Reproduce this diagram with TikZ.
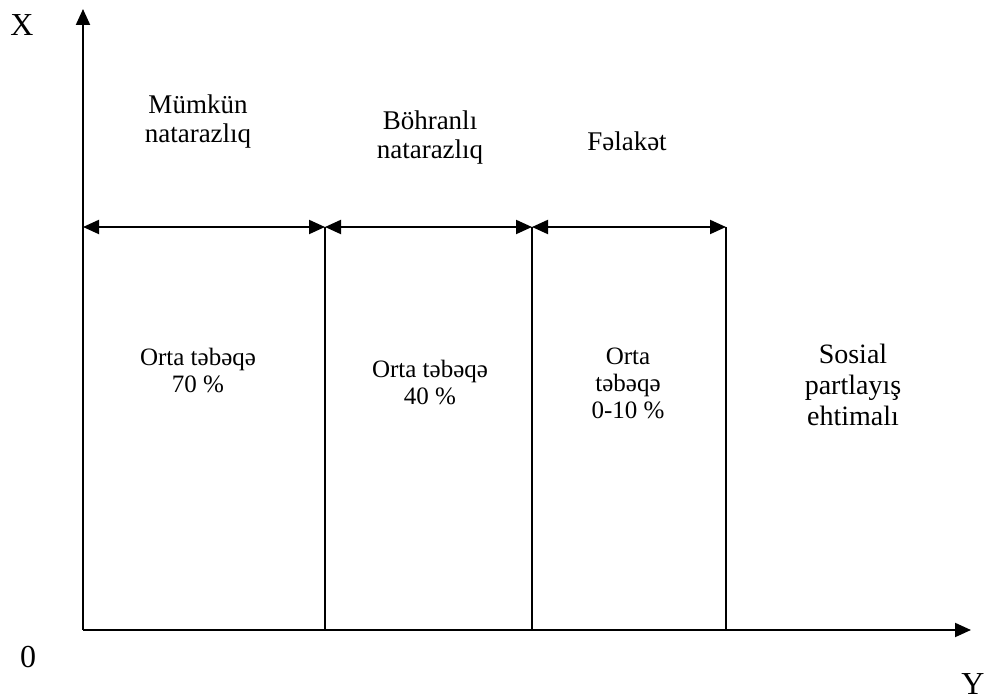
\documentclass[tikz,border=0pt]{standalone}
\usepackage{fontspec}
\setmainfont{Liberation Serif}
\usetikzlibrary{arrows.meta,positioning}

\begin{document}
\begin{tikzpicture}[
    x=0.5pt, y=-0.5pt,
    axis/.style={-{Triangle[length=8pt,width=7pt]}, line width=1pt},
    span/.style={{Triangle[length=8pt,width=7pt]}-{Triangle[length=8pt,width=7pt]}, line width=1pt},
    wall/.style={line width=0.7pt},
    head/.style={align=center, font=\fontsize{13.5}{14.5}\selectfont},
    share/.style={align=center, font=\fontsize{12.5}{13.5}\selectfont},
    lbl/.style={font=\fontsize{16}{18}\selectfont}
]
    \useasboundingbox (0,0) rectangle (987,699);

    % Axes
    \coordinate (O) at (83,630);
    \coordinate (xtop) at (83,9);
    \coordinate (yend) at (971,630);
    \draw[axis] (O) -- (xtop);
    \draw[axis] (O) -- (yend);
    \node[lbl] (xlab) at (22,25) {X};
    \node[lbl] (ylab) at (973,684) {Y};
    \node[lbl] (olab) at (28,657) {0};

    % Boundaries
    \coordinate (a0) at (83,227);
    \coordinate (a1) at (325,227);
    \coordinate (a2) at (532,227);
    \coordinate (a3) at (726,227);
    \coordinate (b1) at (325,630);
    \coordinate (b2) at (532,630);
    \coordinate (b3) at (726,630);
    \draw[wall] (a1) -- (b1);
    \draw[wall] (a2) -- (b2);
    \draw[wall] (a3) -- (b3);

    % Ranges
    \draw[span] (a0) -- (a1);
    \draw[span] (a1) -- (a2);
    \draw[span] (a2) -- (a3);

    % Zone titles
    \node[head] (mumkun) at (198,122) {Mümkün\\natarazlıq};
    \node[head] (bohran) at (430,138) {Böhranlı\\natarazlıq};
    \node[head] (felaket) at (627,141) {Fəlakət};

    % Middle class
    \node[share] (orta1) at (198,370) {Orta təbəqə\\70 \%};
    \node[share] (orta2) at (430,382) {Orta təbəqə\\40 \%};
    \node[share] (orta3) at (628,383) {Orta\\təbəqə\\0-10 \%};
    \node[align=center, font=\fontsize{14}{15.5}\selectfont] (sosial) at (853,385) {Sosial\\partlayış\\ehtimalı};
\end{tikzpicture}
\end{document}
